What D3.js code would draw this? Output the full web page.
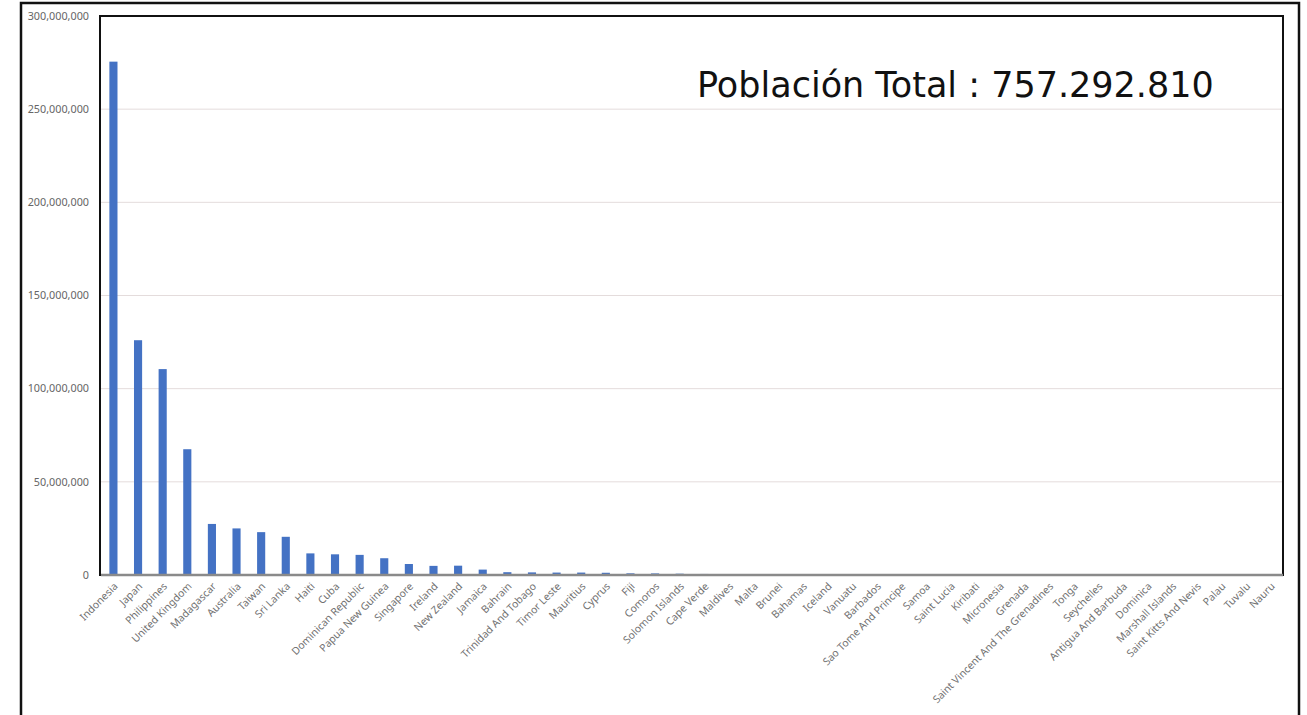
<!DOCTYPE html>
<html>
<head>
<meta charset="utf-8">
<script src="https://cdn.jsdelivr.net/npm/d3@7"></script>
<style>
  body { margin: 0; background: #fff; }
</style>
</head>
<body>
<div id="barViz"></div>
<script>
var countries = ["Indonesia", "Japan", "Philippines", "United Kingdom", "Madagascar", "Australia",
    "Taiwan", "Sri Lanka", "Haiti", "Cuba", "Dominican Republic", "Papua New Guinea", "Singapore",
    "Ireland", "New Zealand", "Jamaica", "Bahrain", "Trinidad And Tobago", "Timor Leste", "Mauritius",
    "Cyprus", "Fiji", "Comoros", "Solomon Islands", "Cape Verde", "Maldives", "Malta", "Brunei",
    "Bahamas", "Iceland", "Vanuatu", "Barbados", "Sao Tome And Principe", "Samoa", "Saint Lucia",
    "Kiribati", "Micronesia", "Grenada", "Saint Vincent And The Grenadines", "Tonga", "Seychelles",
    "Antigua And Barbuda", "Dominica", "Marshall Islands", "Saint Kitts And Nevis", "Palau", "Tuvalu", "Nauru"];

var population = [275500000, 126000000, 110500000, 67500000, 27400000, 25000000,
    23000000, 20500000, 11600000, 11100000, 10800000, 9000000, 5900000,
    4900000, 5000000, 2900000, 1500000, 1400000, 1300000, 1300000,
    1200000, 900000, 850000, 700000, 560000, 520000, 520000, 440000,
    400000, 370000, 310000, 290000, 220000, 200000, 180000,
    120000, 110000, 110000, 100000, 100000, 100000,
    95000, 72000, 42000, 53000, 18000, 11000, 11000];

var yTicks = [0, 50000000, 100000000, 150000000, 200000000, 250000000, 300000000];

var totalText = "Población Total : 757.292.810";

var W = 1307, H = 715;
var margin = {top: 16, right: 24, bottom: 140, left: 101},
    width = W - margin.left - margin.right,
    height = H - margin.top - margin.bottom;

var svg = d3.select("#barViz")
    .append("svg")
    .attr("width", W)
    .attr("height", H);

// outer frame (runs off the bottom of the picture)
svg.append("rect")
    .attr("x", 21).attr("y", 3)
    .attr("width", 1278).attr("height", 760)
    .attr("fill", "none")
    .attr("stroke", "#111")
    .attr("stroke-width", 2.5);

var g = svg.append("g")
    .attr("transform", "translate(" + margin.left + "," + margin.top + ")");

var xAxis = d3.scaleBand()
    .range([0, width])
    .paddingInner(0.67)
    .paddingOuter(0.34)
    .domain(countries);

var yAxis = d3.scaleLinear()
    .domain([0, 300000000])
    .range([height, 0]);

// gridlines
g.append("g")
    .selectAll("line")
    .data(yTicks.slice(1))
    .enter()
    .append("line")
    .attr("x1", 0)
    .attr("x2", width)
    .attr("y1", function (d) { return yAxis(d); })
    .attr("y2", function (d) { return yAxis(d); })
    .attr("stroke", "#e4dcdc")
    .attr("stroke-width", 1);

// y labels
g.append("g")
    .selectAll("text")
    .data(yTicks)
    .enter()
    .append("text")
    .attr("x", -12)
    .attr("y", function (d) { return yAxis(d); })
    .attr("dy", "0.35em")
    .attr("text-anchor", "end")
    .attr("font-family", "Noto Sans, sans-serif")
    .attr("font-size", 10.8)
    .attr("fill", "#666")
    .text(function (d) { return d3.format(",")(d); });

// inner frame
g.append("rect")
    .attr("x", -1).attr("y", 0)
    .attr("width", width + 1).attr("height", height)
    .attr("fill", "none")
    .attr("stroke", "#111")
    .attr("stroke-width", 2);

// bars
g.append("g")
    .selectAll("rect")
    .data(countries)
    .enter()
    .append("rect")
    .attr("x", function (d) { return xAxis(d); })
    .attr("y", function (d, i) { return yAxis(population[i]); })
    .attr("width", xAxis.bandwidth())
    .attr("height", function (d, i) { return height - yAxis(population[i]); })
    .attr("fill", "#4472c4");

// baseline
g.append("line")
    .attr("x1", 0).attr("x2", width)
    .attr("y1", height).attr("y2", height)
    .attr("stroke", "#8a8a8a")
    .attr("stroke-width", 2.5);

// x labels
g.append("g")
    .selectAll("text")
    .data(countries)
    .enter()
    .append("text")
    .attr("transform", function (d) {
        var cx = xAxis(d) + xAxis.bandwidth() / 2 + 5;
        return "translate(" + cx + "," + (height + 12) + ") rotate(-45)";
    })
    .attr("text-anchor", "end")
    .attr("font-family", "Noto Sans, sans-serif")
    .attr("font-size", 10.4)
    .attr("fill", "#707070")
    .text(function (d) { return d; });

// total label
svg.append("text")
    .attr("x", 697)
    .attr("y", 97)
    .attr("font-family", "DejaVu Sans, sans-serif")
    .attr("font-size", 35)
    .attr("fill", "#111")
    .text(totalText);
</script>
</body>
</html>
